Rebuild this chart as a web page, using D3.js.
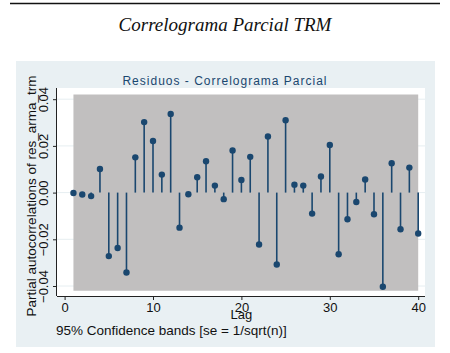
<!DOCTYPE html>
<html>
<head>
<meta charset="utf-8">
<script src="https://cdn.jsdelivr.net/npm/d3@7"></script>
<style>
  body { margin: 0; background: #fff; }
  svg { display: block; }
</style>
</head>
<body>
<div id="chart"></div>
<script>
// partial autocorrelations, lags 1..40
const lags = d3.range(1, 41);
const pacf = [
  -0.0002, -0.0008, -0.0015, 0.0101, -0.0272, -0.0237, -0.0342, 0.0151, 0.0302, 0.0221,
  0.0077, 0.0337, -0.0150, -0.0007, 0.0066, 0.0134, 0.0030, -0.0028, 0.0180, 0.0054,
  0.0153, -0.0222, 0.0240, -0.0308, 0.0310, 0.0034, 0.0030, -0.0090, 0.0069, 0.0204,
  -0.0264, -0.0114, -0.0040, 0.0056, -0.0093, -0.0403, 0.0126, -0.0157, 0.0107, -0.0175
];
const band = 0.042;  // 95% band half-width
const xTicks = [0, 10, 20, 30, 40];
const yTicks = [-0.04, -0.02, 0, 0.02, 0.04];

const W = 450, H = 353;
const navy = "#1a476f";

const svg = d3.select("#chart").append("svg")
    .attr("width", W)
    .attr("height", H);

// top rule + title
svg.append("line")
    .attr("x1", 10).attr("x2", 440).attr("y1", 3.5).attr("y2", 3.5)
    .attr("stroke", "#111").attr("stroke-width", 1.6);

svg.append("text")
    .attr("x", 225).attr("y", 31)
    .attr("text-anchor", "middle")
    .style("font-family", "'Liberation Serif', serif")
    .style("font-style", "italic")
    .style("font-size", "19px")
    .style("fill", "#111")
    .text("Correlograma Parcial TRM");

// graph region
svg.append("rect")
    .attr("x", 16).attr("y", 61).attr("width", 419).attr("height", 286)
    .attr("fill", "#e9f0f3");

const plot = { left: 57, right: 425, top: 88, bottom: 296 };

svg.append("rect")
    .attr("x", plot.left).attr("y", plot.top)
    .attr("width", plot.right - plot.left).attr("height", plot.bottom - plot.top)
    .attr("fill", "#fff");

const x = d3.scaleLinear().domain([0, 40]).range([64.6, 418.2]);
const y = d3.scaleLinear().domain([-0.04, 0.04]).range([286, 99.2]);

// grid lines
svg.append("g")
  .selectAll("line")
  .data(yTicks)
  .join("line")
    .attr("x1", plot.left).attr("x2", plot.right)
    .attr("y1", d => y(d)).attr("y2", d => y(d))
    .attr("stroke", "#e6eef1").attr("stroke-width", 1);

// confidence band
const area = d3.area()
    .x(d => x(d))
    .y0(y(-band))
    .y1(y(band));
svg.append("path")
    .datum(lags)
    .attr("d", area)
    .attr("fill", "#c1bfbf");

// stems + markers
const pts = lags.map((l, i) => ({ lag: l, v: pacf[i] }));

svg.append("g")
  .selectAll("line")
  .data(pts)
  .join("line")
    .attr("x1", d => x(d.lag)).attr("x2", d => x(d.lag))
    .attr("y1", y(0)).attr("y2", d => y(d.v))
    .attr("stroke", navy).attr("stroke-width", 1.6);

svg.append("g")
  .selectAll("circle")
  .data(pts)
  .join("circle")
    .attr("cx", d => x(d.lag)).attr("cy", d => y(d.v))
    .attr("r", 3.2)
    .attr("fill", navy);

// axes
const fontAx = "'Liberation Sans', Arial, sans-serif";

const xAxis = svg.append("g")
    .attr("transform", `translate(0,${plot.bottom})`)
    .call(d3.axisBottom(x).tickValues(xTicks).tickSize(4).tickPadding(3).tickSizeOuter(0));
xAxis.select(".domain").attr("d", `M${plot.left},0.5H${plot.right}`);

const yAxis = svg.append("g")
    .attr("transform", `translate(${plot.left},0)`)
    .call(d3.axisLeft(y).tickValues(yTicks).tickSize(4).tickFormat(d3.format(".2f")).tickSizeOuter(0));
yAxis.select(".domain").attr("d", `M-0.5,${plot.top}V${plot.bottom}`);

[xAxis, yAxis].forEach(g => {
  g.selectAll(".domain").attr("stroke", "#222");
  g.selectAll(".tick line").attr("stroke", "#222");
  g.selectAll("text")
    .style("font-family", fontAx)
    .style("font-size", "13px")
    .attr("fill", "#111");
});

// rotate y tick labels
yAxis.selectAll(".tick text")
    .attr("x", null).attr("dy", null)
    .attr("text-anchor", "middle")
    .attr("transform", "translate(-9,0) rotate(-90)");

// titles
svg.append("text")
    .attr("x", 225).attr("y", 85)
    .attr("text-anchor", "middle")
    .style("font-family", fontAx)
    .style("font-size", "12px")
    .style("letter-spacing", "1px")
    .style("fill", navy)
    .text("Residuos - Correlograma Parcial");

svg.append("text")
    .attr("transform", `translate(36,${(plot.top + plot.bottom) / 2 + 4}) rotate(-90)`)
    .attr("text-anchor", "middle")
    .style("font-family", fontAx)
    .style("font-size", "13.5px")
    .style("fill", "#111")
    .text("Partial autocorrelations of res_arma_trm");

svg.append("text")
    .attr("x", x(20)).attr("y", 319)
    .attr("text-anchor", "middle")
    .style("font-family", fontAx)
    .style("font-size", "13px")
    .style("fill", "#111")
    .text("Lag");

svg.append("text")
    .attr("x", 56).attr("y", 335)
    .style("font-family", fontAx)
    .style("font-size", "13.5px")
    .style("fill", "#111")
    .text("95% Confidence bands [se = 1/sqrt(n)]");
</script>
</body>
</html>
